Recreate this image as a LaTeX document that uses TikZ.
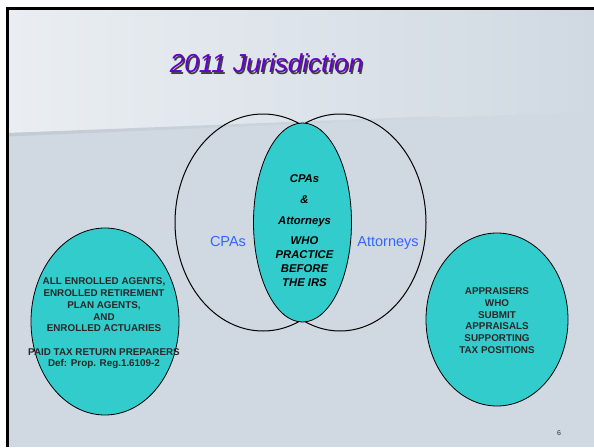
\documentclass[tikz,border=0pt]{standalone}
\usepackage{fontspec}
\setmainfont{Liberation Sans}
\usetikzlibrary{shapes.geometric,shadings}
\definecolor{bgc}{RGB}{208,217,226}
\definecolor{bglight}{RGB}{234,238,242}
\definecolor{band}{RGB}{194,203,213}
\definecolor{teal}{RGB}{51,204,204}
\definecolor{titlec}{RGB}{102,0,204}
\definecolor{labblue}{RGB}{51,102,255}
\definecolor{txtc}{RGB}{40,40,40}
\tikzset{
  venn/.style={draw=black, line width=1pt, ellipse, inner sep=0pt},
  tealbox/.style={draw=black, line width=0.8pt, fill=teal, ellipse, inner sep=0pt},
  grouptext/.style={align=center, text=txtc, font=\fontsize{9.85}{11.7}\selectfont\bfseries, inner sep=0pt},
  sidelabel/.style={text=labblue, font=\fontsize{14.5}{16}\selectfont, inner sep=0pt, anchor=base}
}
\begin{document}
\begin{tikzpicture}[x=1pt,y=-1pt]
\useasboundingbox (0,0) rectangle (594,447);
\fill[white] (0,0) rectangle (594,447);
\fill[bgc] (8,8) rectangle (594,447);
\shade[left color=bglight, right color=bgc] (8,8) -- (594,8) -- (594,112) -- (8,133) -- cycle;
\shade[left color=band, right color=bgc] (8,133) -- (440,116) -- (440,118) -- (8,136.5) -- cycle;
\draw[line width=2.5pt] (7.25,447) -- (7.25,8.25) -- (594,8.25);
% title
\node[anchor=base, text=black!75, font=\fontsize{26}{30}\selectfont\itshape, inner sep=0pt] (titleshadow) at (268,74) {2011 Jurisdiction};
\node[anchor=base, text=titlec, font=\fontsize{26}{30}\selectfont\itshape, inner sep=0pt] (title) at (266.5,72.5) {2011 Jurisdiction};
% venn
\node[venn, minimum width=176pt, minimum height=217pt] (cpacircle) at (263,222.5) {};
\node[venn, minimum width=172pt, minimum height=217pt] (attcircle) at (340,222.5) {};
\node[tealbox, minimum width=98pt, minimum height=199pt] (both) at (302.5,222.5) {};
\node[align=center, text=black, font=\fontsize{11.3}{14}\selectfont\bfseries\itshape, inner sep=0pt] (bothtext) at (304.5,230.5)
  {CPAs\\[7pt] \&\\[7pt] Attorneys\\[6pt] WHO\\ PRACTICE\\ BEFORE\\ THE IRS};
\node[sidelabel] (cpalabel) at (228,246.2) {CPAs};
\node[sidelabel] (attlabel) at (388,246.2) {Attorneys};
% side groups
\node[tealbox, minimum width=148pt, minimum height=187pt] (agents) at (105,321.5) {};
\node[grouptext] (agentstext) at (104,323.5)
  {ALL ENROLLED AGENTS,\\ ENROLLED RETIREMENT\\ PLAN AGENTS,\\ AND\\ ENROLLED ACTUARIES\\[11.7pt] PAID TAX RETURN PREPARERS\\ Def: Prop. Reg.1.6109-2};
\node[tealbox, minimum width=142pt, minimum height=173pt] (appraisers) at (497,319.5) {};
\node[grouptext] (appraiserstext) at (497,320.5)
  {APPRAISERS\\ WHO\\ SUBMIT\\ APPRAISALS\\ SUPPORTING\\ TAX POSITIONS};
\node[text=txtc, font=\fontsize{7}{8}\selectfont, inner sep=0pt] (pagenum) at (559,433) {6};
\end{tikzpicture}
\end{document}
